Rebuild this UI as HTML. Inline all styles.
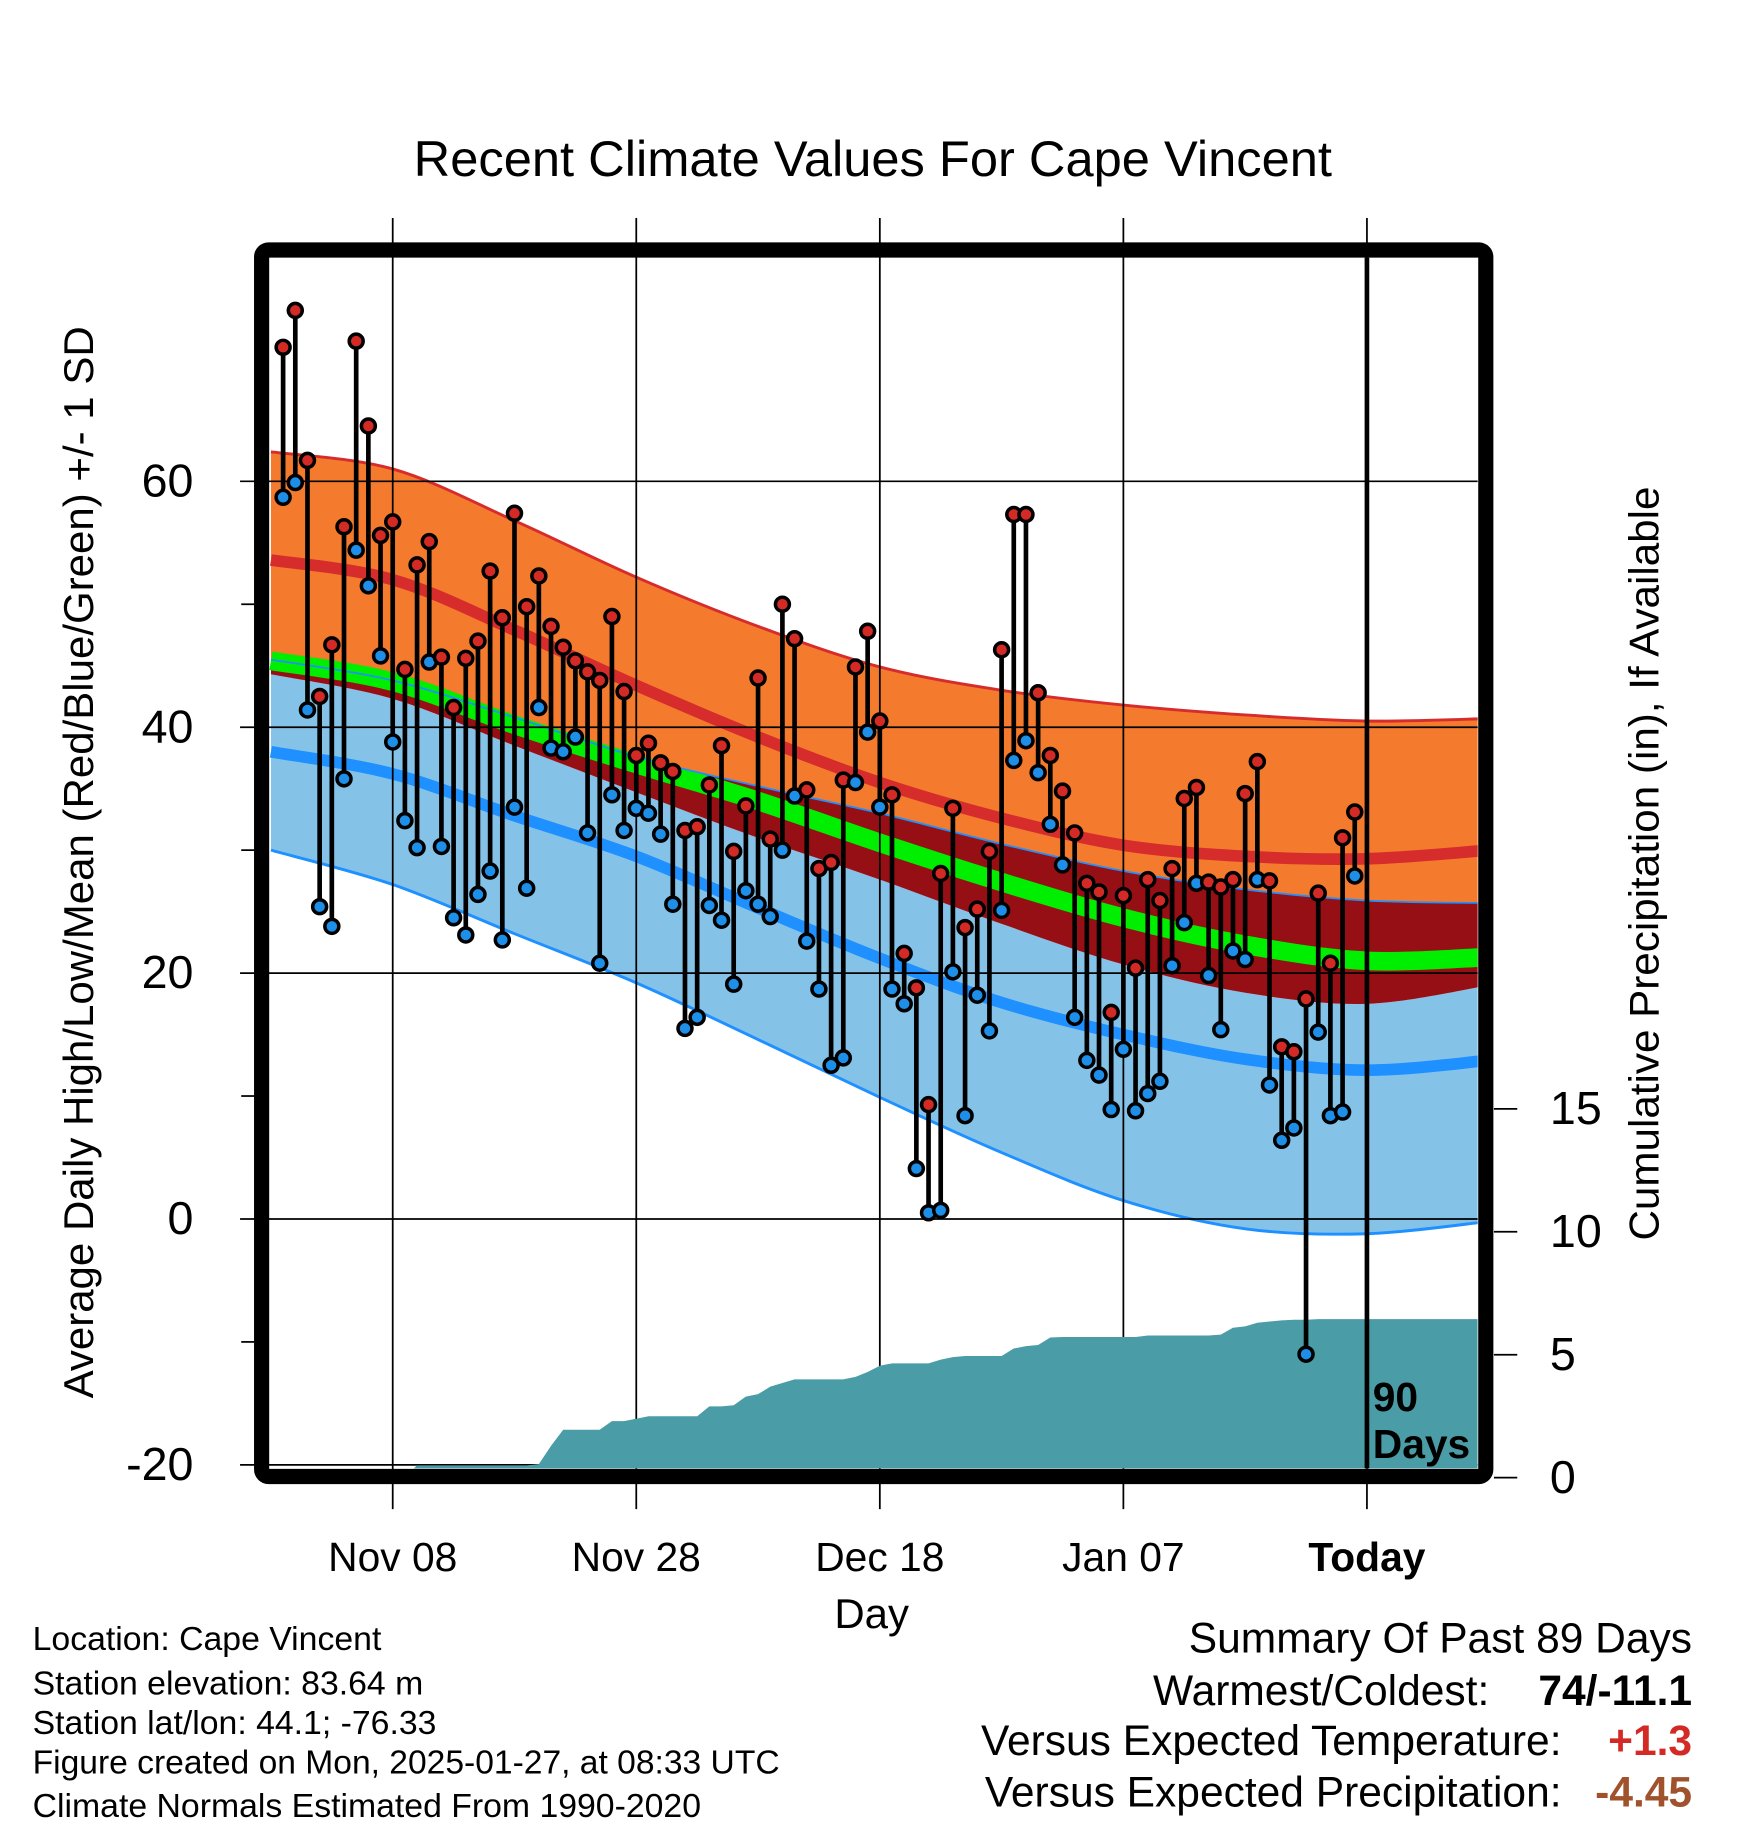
<!DOCTYPE html>
<html><head><meta charset="utf-8"><style>
html,body{margin:0;padding:0;background:#fff}
svg{display:block;font-family:"Liberation Sans",sans-serif}
</style></head><body>
<svg id="chart" width="1748" height="1828" viewBox="0 0 1500 1568.6" xmlns="http://www.w3.org/2000/svg">
<text x="749" y="151" font-size="43" text-anchor="middle" textLength="788" lengthAdjust="spacingAndGlyphs">Recent Climate Values For Cape Vincent</text>
<g id="bands"></g>
<g id="grid"></g>
<g id="precip"></g>
<g id="marks"></g>
<g id="axes"></g>
<text transform="translate(80,740) rotate(-90)" font-size="36" text-anchor="middle" textLength="920" lengthAdjust="spacingAndGlyphs">Average Daily High/Low/Mean (Red/Blue/Green) +/- 1 SD</text>
<text transform="translate(1423,741) rotate(-90)" font-size="36" text-anchor="middle" textLength="647" lengthAdjust="spacingAndGlyphs">Cumulative Precipitation (in), If Available</text>
<text x="748" y="1397" font-size="36" text-anchor="middle">Day</text>
<text font-size="35" font-weight="bold"><tspan x="1178" y="1211">90</tspan><tspan x="1178" y="1251">Days</tspan></text>
<g font-size="29">
<text x="28" y="1416">Location: Cape Vincent</text>
<text x="28" y="1454">Station elevation: 83.64 m</text>
<text x="28" y="1488">Station lat/lon: 44.1; -76.33</text>
<text x="28" y="1522" textLength="641" lengthAdjust="spacingAndGlyphs">Figure created on Mon, 2025-01-27, at 08:33 UTC</text>
<text x="28" y="1559">Climate Normals Estimated From 1990-2020</text>
</g>
<g font-size="36.5">
<text x="1452" y="1418" text-anchor="end">Summary Of Past 89 Days</text>
<text x="1278" y="1463" text-anchor="end">Warmest/Coldest:</text>
<text x="1452" y="1463" text-anchor="end" font-weight="bold">74/-11.1</text>
<text x="1340" y="1506" text-anchor="end">Versus Expected Temperature:</text>
<text x="1452" y="1506" text-anchor="end" font-weight="bold" fill="#d42a26">+1.3</text>
<text x="1340" y="1550" text-anchor="end">Versus Expected Precipitation:</text>
<text x="1452" y="1550" text-anchor="end" font-weight="bold" fill="#a0522d">-4.45</text>
</g>
</svg>
<script>
const highs=[70.9,73.9,61.7,42.5,46.7,56.3,71.4,64.5,55.6,56.7,44.7,53.2,55.1,45.7,41.6,45.6,47.0,52.7,48.9,57.4,49.8,52.3,48.2,46.5,45.4,44.5,43.8,49.0,42.9,37.7,38.7,37.1,36.4,31.6,31.9,35.3,38.5,29.9,33.6,44.0,30.9,50.0,47.2,34.9,28.5,29.0,35.7,44.9,47.8,40.5,34.5,21.6,18.8,9.3,28.1,33.4,23.7,25.2,29.9,46.3,57.3,57.3,42.8,37.7,34.8,31.4,27.3,26.6,16.8,26.3,20.4,27.6,25.9,28.5,34.2,35.1,27.4,27.0,27.6,34.6,37.2,27.5,14.0,13.6,17.9,26.5,20.8,31.0,33.1];
const lows=[58.7,59.9,41.4,25.4,23.8,35.8,54.4,51.5,45.8,38.8,32.4,30.2,45.3,30.3,24.5,23.1,26.4,28.3,22.7,33.5,26.9,41.6,38.3,38.0,39.2,31.4,20.8,34.5,31.6,33.4,33.0,31.3,25.6,15.5,16.4,25.5,24.3,19.1,26.7,25.6,24.6,30.0,34.4,22.6,18.7,12.5,13.1,35.5,39.6,33.5,18.7,17.5,4.1,0.5,0.7,20.1,8.4,18.2,15.3,25.1,37.3,38.9,36.3,32.1,28.8,16.4,12.9,11.7,8.9,13.8,8.8,10.2,11.2,20.6,24.1,27.3,19.8,15.4,21.8,21.1,27.6,10.9,6.4,7.4,-11.0,15.2,8.4,8.7,27.9];
const precip=[0.05,0.05,0.05,0.05,0.05,0.05,0.05,0.05,0.05,0.05,0.05,0.5,0.5,0.5,0.5,0.5,0.5,0.5,0.5,0.5,0.5,0.55,1.3,1.95,1.95,1.95,1.95,2.3,2.3,2.4,2.5,2.5,2.5,2.5,2.5,2.9,2.9,2.95,3.3,3.4,3.7,3.85,4.0,4.0,4.0,4.0,4.0,4.1,4.3,4.55,4.65,4.65,4.65,4.65,4.8,4.9,4.95,4.95,4.95,4.95,5.25,5.35,5.4,5.7,5.72,5.72,5.72,5.72,5.72,5.72,5.72,5.78,5.78,5.78,5.78,5.78,5.78,5.82,6.1,6.15,6.3,6.35,6.4,6.42,6.42,6.45,6.45,6.45,6.45];
const normDays=[-10,0,10,20,30,40,50,60,70,80,90];
const highPlusSD=[62.4,61.0,56.8,52.2,48.2,44.9,43.0,41.8,41.0,40.5,40.7];
const highMean=[53.6,52.0,47.9,43.4,39.2,35.5,32.6,30.4,29.5,29.3,30.0];
const highMinusSD=[45.5,43.8,40.8,37.6,35.2,33.0,30.5,28.3,26.8,25.9,25.7];
const meanTemp=[45.4,43.7,40.2,37.0,34.0,30.6,27.4,24.5,22.3,21.0,21.3];
const lowPlusSD=[44.3,42.3,38.5,34.7,31.0,27.6,24.0,20.7,18.4,17.5,19.0];
const lowMean=[38.0,36.2,32.8,29.5,25.3,21.2,17.6,15.0,13.0,12.1,12.9];
const lowMinusSD=[30.0,27.2,23.2,19.2,14.6,9.9,5.4,1.5,-0.8,-1.2,-0.2];
const yTicks=[-20,0,20,40,60];
const y2Ticks=[0,5,10,15];
const xTickDays=[0,20,40,60,80];
const xTickLabels=["Nov 08","Nov 28","Dec 18","Jan 07","Today"];
const firstDay=-9;

const NS="http://www.w3.org/2000/svg";
const X0=231,X1=1268,Y0=221,Y1=1260;
const xs=d=>337+10.45*d;
const ys=v=>1046-10.55*v;
const yp=v=>1268-21.1*v;
function mk(tag,attrs,parent){const e=document.createElementNS(NS,tag);for(const k in attrs)e.setAttribute(k,attrs[k]);parent.appendChild(e);return e;}
const svg=document.getElementById('chart');
const defs=mk('defs',{},svg);
const cp=mk('clipPath',{id:'plotclip'},defs);
mk('rect',{x:X0,y:Y0,width:X1-X0,height:Y1-Y0},cp);
const bands=document.getElementById('bands');bands.setAttribute('clip-path','url(#plotclip)');
function pts(arr){return normDays.map((d,i)=>[xs(d),ys(arr[i])]);}
function smooth(p,move){let s=(move?'M':'L')+p[0][0].toFixed(1)+','+p[0][1].toFixed(1);
for(let i=0;i<p.length-1;i++){const a=p[Math.max(0,i-1)],b=p[i],c=p[i+1],d=p[Math.min(p.length-1,i+2)];
const c1=[b[0]+(c[0]-a[0])/6,b[1]+(c[1]-a[1])/6],c2=[c[0]-(d[0]-b[0])/6,c[1]-(d[1]-b[1])/6];
s+='C'+c1.map(v=>v.toFixed(1)).join(',')+' '+c2.map(v=>v.toFixed(1)).join(',')+' '+c[0].toFixed(1)+','+c[1].toFixed(1);}return s;}
function area(top,bot,fill,name){const d=smooth(pts(top),true)+smooth(pts(bot).reverse(),false)+'Z';const e=mk('path',{d:d,fill:fill},bands);

}
function line(arr,col,w,name){const e=mk('path',{d:smooth(pts(arr),true),fill:'none',stroke:col,'stroke-width':w},bands);

}
area(lowPlusSD,lowMinusSD,'#85c2e8','low-sd-band');
area(highPlusSD,highMinusSD,'#f47a2e','high-sd-band');
area(highMinusSD,lowPlusSD,'#960f14','overlap-band');
line(meanTemp,'#00ee00',16,'mean-temp-line');
line(lowMean,'#1e90ff',10,'low-mean-line');
line(highMean,'#d62c2c',10,'high-mean-line');
line(highPlusSD,'#d62c2c',2.5,'high-plus-sd-line');
line(highMinusSD,'#1e90ff',1.5,'high-minus-sd-line');
line(lowMinusSD,'#1e90ff',2.5,'low-minus-sd-line');

const grid=document.getElementById('grid');
yTicks.forEach(v=>{const e=mk('line',{x1:206,x2:X1,y1:ys(v),y2:ys(v),stroke:'#000','stroke-width':1.5},grid);

});
xTickDays.forEach(d=>{const e=mk('line',{x1:xs(d),x2:xs(d),y1:187,y2:1295,stroke:'#000','stroke-width':1.5},grid);

});

const pg=document.getElementById('precip');pg.setAttribute('clip-path','url(#plotclip)');
let pp=[X0+','+yp(0),X0+','+yp(precip[0])];
precip.forEach((v,i)=>{const x=xs(firstDay+i);pp.push(x.toFixed(1)+','+yp(v).toFixed(1));});
pp.push(X1+','+yp(precip[precip.length-1]));pp.push(X1+','+yp(0));
const pa=mk('polygon',{points:pp.join(' '),fill:'#4a9ca6'},pg);



const mg=document.getElementById('marks');
highs.forEach((h,i)=>{const x=xs(firstDay+i);
const s=mk('line',{x1:x,x2:x,y1:ys(h),y2:ys(lows[i]),stroke:'#000','stroke-width':4},mg);

});
highs.forEach((h,i)=>{const x=xs(firstDay+i);
const a=mk('circle',{cx:x,cy:ys(lows[i]),r:6,fill:'#1e8fe8',stroke:'#000','stroke-width':3},mg);


const b=mk('circle',{cx:x,cy:ys(h),r:6,fill:'#d42a26',stroke:'#000','stroke-width':3},mg);

});
const tl=mk('line',{x1:xs(80),x2:xs(80),y1:Y0,y2:Y1,stroke:'#000','stroke-width':4},mg);



const ax=document.getElementById('axes');
const fr=mk('rect',{x:224.5,y:214.5,width:1050.5,height:1052.5,rx:6,fill:'none',stroke:'#000','stroke-width':13},ax);


yTicks.forEach(v=>{const t=mk('text',{x:166,y:ys(v)+13,'font-size':40,'text-anchor':'end'},ax);t.textContent=v;

});
yTicks.slice(0,-1).forEach(v=>{const m=mk('line',{x1:207,x2:218,y1:ys(v+10),y2:ys(v+10),stroke:'#000','stroke-width':1.5},ax);

});
y2Ticks.forEach(v=>{const m=mk('line',{x1:1282,x2:1302,y1:yp(v),y2:yp(v),stroke:'#000','stroke-width':1.5},ax);


const t=mk('text',{x:1330,y:yp(v)+13,'font-size':40},ax);t.textContent=v;

});
xTickDays.forEach((d,i)=>{const t=mk('text',{x:xs(d),y:1348,'font-size':35,'text-anchor':'middle'},ax);t.textContent=xTickLabels[i];
if(i===xTickLabels.length-1)t.setAttribute('font-weight','bold');

});
</script>
</body></html>
